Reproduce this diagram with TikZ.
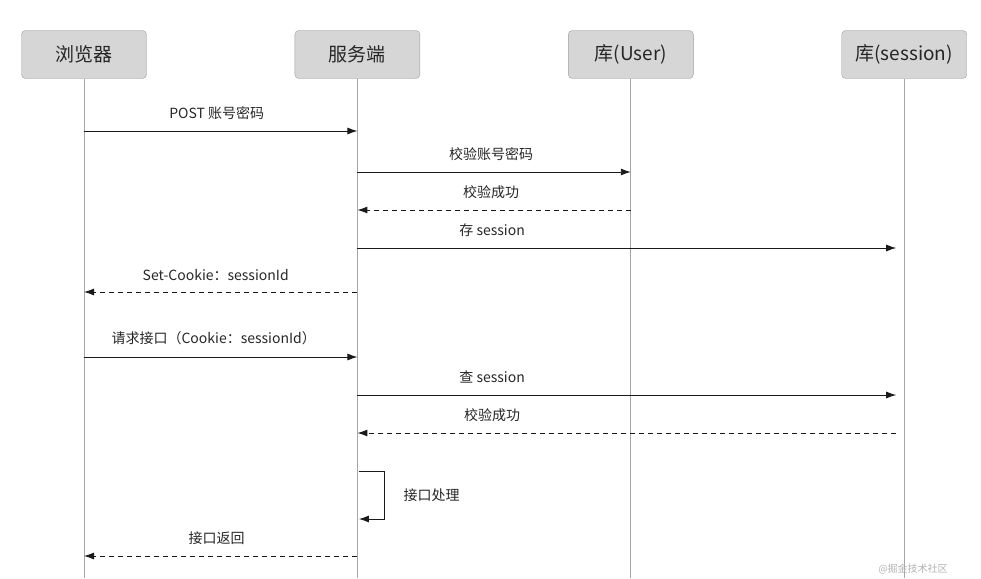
\documentclass[tikz,border=0pt]{standalone}
\usepackage{fontspec}
\setmainfont{Noto Sans CJK SC}
\usetikzlibrary{arrows.meta, positioning}
\definecolor{boxfill}{HTML}{D6D6D6}
\definecolor{boxline}{HTML}{9E9E9E}
\definecolor{lifegray}{HTML}{A6A6A6}

\begin{document}
\begin{tikzpicture}[
    x=1pt, y=-1pt,
    actor/.style={rectangle, draw=boxline, fill=boxfill, rounded corners=4pt, minimum width=125pt, minimum height=48pt, font=\fontsize{19}{21}\selectfont, text=black!85},
    lifeline/.style={draw=lifegray, line width=1pt},
    msg/.style={-{Latex[length=10pt,width=7pt]}, line width=0.9pt, draw=black!90},
    reply/.style={msg, dash pattern=on 5pt off 4pt},
    label/.style={midway, above=8pt, font=\fontsize{14}{16}\selectfont, text=black!85}
]
\clip (0,0) rectangle (981,578);

% Actors
\node[actor] (browser) at (84,54.5) {浏览器};
\node[actor, right=148pt of browser] (server) {服务端};
\node[actor, right=148pt of server] (userdb) {库(User)};
\node[actor, right=148pt of userdb] (sessiondb) {库(session)};

% Lifelines
\coordinate (bottom) at (0,578);
\foreach \who in {browser, server, userdb, sessiondb}
    \draw[lifeline] (\who.south) -- (\who.south |- bottom);

% Message rows
\coordinate (m1) at (0,131);
\coordinate (m2) at (0,172);
\coordinate (m3) at (0,210);
\coordinate (m4) at (0,248);
\coordinate (m5) at (0,292);
\coordinate (m6) at (0,357);
\coordinate (m7) at (0,395);
\coordinate (m8) at (0,433);
\coordinate (m9) at (0,471);
\coordinate (m10) at (0,519);
\coordinate (m11) at (0,556);

% Messages
\draw[msg] (browser |- m1) -- (server |- m1) node[label, xshift=-4pt] {POST 账号密码};
\draw[msg] (server |- m2) -- (userdb |- m2) node[label, xshift=-3pt] {校验账号密码};
\draw[reply] (userdb |- m3) -- (server |- m3) node[label, xshift=-3pt] {校验成功};
\draw[msg] (server |- m4) -- ([xshift=-8pt]sessiondb |- m4) node[label, pos=0.25] {存 session};
\draw[reply] (server |- m5) -- (browser |- m5) node[label, xshift=-5pt] {Set-Cookie：sessionId};
\draw[msg] (browser |- m6) -- (server |- m6) node[label, xshift=-7pt] {请求接口（Cookie：sessionId）};
\draw[msg] (server |- m7) -- ([xshift=-8pt]sessiondb |- m7) node[label, pos=0.25] {查 session};
\draw[reply] ([xshift=-8pt]sessiondb |- m8) -- (server |- m8) node[label, pos=0.75] {校验成功};
\draw[msg] ([xshift=1.5pt]server |- m9) -- ++(26,0) -- ++(0,48)
    node[midway, right=15pt, font=\fontsize{14}{16}\selectfont, text=black!85] (work) {接口处理}
    -- ([xshift=1.5pt]server |- m10);
\draw[reply] (server |- m11) -- (browser |- m11) node[label, xshift=-4pt] {接口返回};

% Watermark
\node[font=\fontsize{10}{12}\selectfont, text=black!30] (mark) at (913,569) {@掘金技术社区};
\end{tikzpicture}
\end{document}
